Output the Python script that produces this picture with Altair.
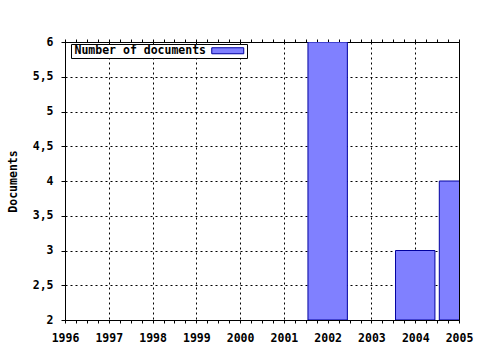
import altair as alt
import numpy as np
import pandas as pd

years = [2002, 2004, 2005]
documents = [6, 3, 4]
series_name = "Number of documents"
x_ticks = list(range(1996, 2006))
y_ticks = [2, 2.5, 3, 3.5, 4, 4.5, 5, 5.5, 6]

df = pd.DataFrame({"year": years, "documents": documents, "series": [series_name] * len(years)})
minor = [float(v) for v in np.arange(1996, 2005.01, 0.25)]

FONT = "DejaVu Sans Mono"

base = alt.Chart(df).transform_calculate(
    x0="datum.year - 0.45", x1="datum.year + 0.45"
)

bars = base.mark_rect(clip=True, stroke="#0000a0", strokeWidth=1).encode(
    x=alt.X("x0:Q", scale=alt.Scale(domain=[1996, 2005], nice=False, zero=False),
            axis=alt.Axis(values=minor, title=None, orient="bottom",
                          labelExpr="datum.value % 1 == 0 ? toString(datum.value) : ''",
                          grid=True,
                          gridOpacity={"condition": {"test": "datum.value % 1 != 0", "value": 0}, "value": 1},
                          gridDash=[2, 3], gridColor="#000000",
                          tickSize=3, tickColor="#000", domainColor="#000",
                          labelPadding=9, labelFlush=False, labelOverlap=False)),
    x2="x1:Q",
    y=alt.Y("documents:Q", scale=alt.Scale(domain=[2, 6], nice=False, zero=False),
            axis=alt.Axis(values=y_ticks, title="Documents",
                          labelExpr="replace(toString(datum.value), '.', ',')",
                          grid=True, gridDash=[2, 3], gridColor="#000000",
                          tickSize=4, tickColor="#000", domainColor="#000",
                          labelOverlap=False,
                          labelPadding=8, titlePadding=14)),
    y2=alt.datum(2),
    color=alt.Color("series:N", scale=alt.Scale(range=["#8080ff"]),
                    legend=alt.Legend(title=None, orient="none", legendX=6, legendY=2,
                                      symbolType="M-4,-0.75H4V0.75H-4Z", symbolSize=64,
                                      symbolStrokeColor="#0000a0", symbolStrokeWidth=1,
                                      symbolOffset=150, labelOffset={"expr": "-159"},
                                      strokeColor="#000", fillColor="#ffffff", padding=1,
                                      cornerRadius=0)),
)

top_ticks = base.mark_rect(opacity=0).encode(
    x=alt.X("x0:Q", scale=alt.Scale(domain=[1996, 2005], nice=False, zero=False),
            axis=alt.Axis(values=minor, title=None, orient="top", labels=False, grid=False,
                          domain=False, tickSize=3, tickColor="#000")),
)

chart = alt.layer(bars, top_ticks).resolve_axis(x="independent").properties(
    width=394, height=278,
    autosize=alt.AutoSizeParams(type="none"),
    padding={"left": 65, "top": 42, "right": 21, "bottom": 30},
).configure(background="white").configure_view(stroke="#000", strokeWidth=1).configure_axis(
    labelFont=FONT, labelFontSize=11.5, labelFontWeight="bold", labelColor="#000",
    titleFont=FONT, titleFontSize=11.5, titleFontWeight="bold", titleColor="#000",
).configure_legend(
    labelFont=FONT, labelFontSize=11.5, labelFontWeight="bold", labelColor="#000",
)

chart.save("out.html", embed_options={"renderer": "svg", "actions": False})
